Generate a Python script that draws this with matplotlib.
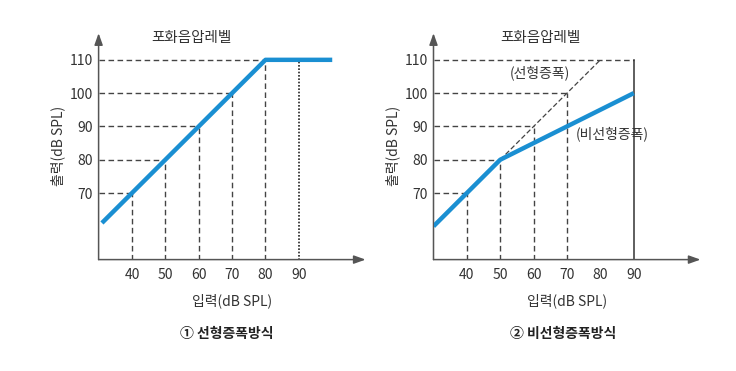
import matplotlib
matplotlib.use("Agg")
import matplotlib.pyplot as plt

plt.rcParams['font.family'] = ['Noto Sans CJK KR', 'DejaVu Sans']

# data
x_ticks = [40, 50, 60, 70, 80, 90]
y_ticks = [70, 80, 90, 100, 110]
lin_x = [31, 40, 50, 60, 70, 80, 100]
lin_y = [61, 70, 80, 90, 100, 110, 110]
nl_x = [30, 40, 50, 60, 70, 80, 90]
nl_y = [60, 70, 80, 85, 90, 95, 100]
ref_x = [50, 80]
ref_y = [80, 110]
lin_guides = [(40, 70), (50, 80), (60, 90), (70, 100), (80, 110)]
nl_guides = [(40, 70), (50, 80), (60, 90), (70, 100)]

BLUE = '#1a8fd2'
GRID = '#444444'
TXT = '#333333'

W, H = 736, 371
fig = plt.figure(figsize=(W / 100, H / 100), dpi=100)


def make_ax(px_left, title_x):
    x0, x1 = px_left, px_left + 267
    y_bot, y_top = 259.6, 33.2
    ax = fig.add_axes([x0 / W, 1 - y_bot / H, (x1 - x0) / W, (y_bot - y_top) / H])
    ax.set_xlim(30, 110)
    ax.set_ylim(50, 118)
    for s in ax.spines.values():
        s.set_visible(False)
    ax.set_xticks(x_ticks)
    ax.set_yticks(y_ticks)
    ax.tick_params(length=0, labelsize=10, colors=TXT, pad=6)
    ax.tick_params(axis='y', pad=4)
    ax.patch.set_alpha(0)
    ax.annotate('', xy=(110, 50), xytext=(30, 50), annotation_clip=False,
                arrowprops=dict(arrowstyle='-|>,head_length=0.7,head_width=0.25',
                                color='#555555', lw=1.1, shrinkA=0, shrinkB=0))
    ax.annotate('', xy=(30, 118), xytext=(30, 50), annotation_clip=False,
                arrowprops=dict(arrowstyle='-|>,head_length=0.7,head_width=0.25',
                                color='#555555', lw=1.1, shrinkA=0, shrinkB=0))
    ax.text(title_x, 116.5, '포화음압레벨', ha='center', va='center', fontsize=10.5, color=TXT)
    ax.set_xlabel('입력(dB SPL)', fontsize=10, color=TXT, labelpad=8)
    ax.set_ylabel('출력(dB SPL)', fontsize=10, color=TXT, labelpad=3)
    return ax


dash = (0, (4, 2.5))

# left panel
ax1 = make_ax(98.6, 57.7)
for gx, gy in lin_guides:
    ax1.plot([30, gx], [gy, gy], color=GRID, lw=1, linestyle=dash)
    ax1.plot([gx, gx], [50, gy], color=GRID, lw=1, linestyle=dash)
ax1.plot([90, 90], [50, 110], color='#222222', lw=1.2, linestyle=(0, (1, 1)))
ax1.plot(lin_x, lin_y, color=BLUE, lw=3.2, solid_capstyle='butt', zorder=5)

# right panel
ax2 = make_ax(433.5, 61.9)
ax2.plot([30, 90], [110, 110], color=GRID, lw=1, linestyle=dash)
for gx, gy in nl_guides:
    ax2.plot([30, gx], [gy, gy], color=GRID, lw=1, linestyle=dash)
    ax2.plot([gx, gx], [50, gy], color=GRID, lw=1, linestyle=dash)
ax2.plot([90, 90], [50, 110], color='#333333', lw=1.1)
ax2.plot(ref_x, ref_y, color=GRID, lw=0.9, linestyle=(0, (4, 2)))
ax2.plot(nl_x, nl_y, color=BLUE, lw=3.2, solid_capstyle='butt', zorder=5)
ax2.text(62, 106, '(선형증폭)', ha='center', va='center', fontsize=10, color=TXT)
ax2.text(83.5, 87.8, '(비선형증폭)', ha='center', va='center', fontsize=10, color=TXT)

fig.text(227 / W, 1 - 334 / H, '① 선형증폭방식', ha='center', va='center',
         fontsize=10, fontweight='bold', color='#222222')
fig.text(563 / W, 1 - 334 / H, '② 비선형증폭방식', ha='center', va='center',
         fontsize=10, fontweight='bold', color='#222222')

fig.savefig('out.png', dpi=100, facecolor='white')
